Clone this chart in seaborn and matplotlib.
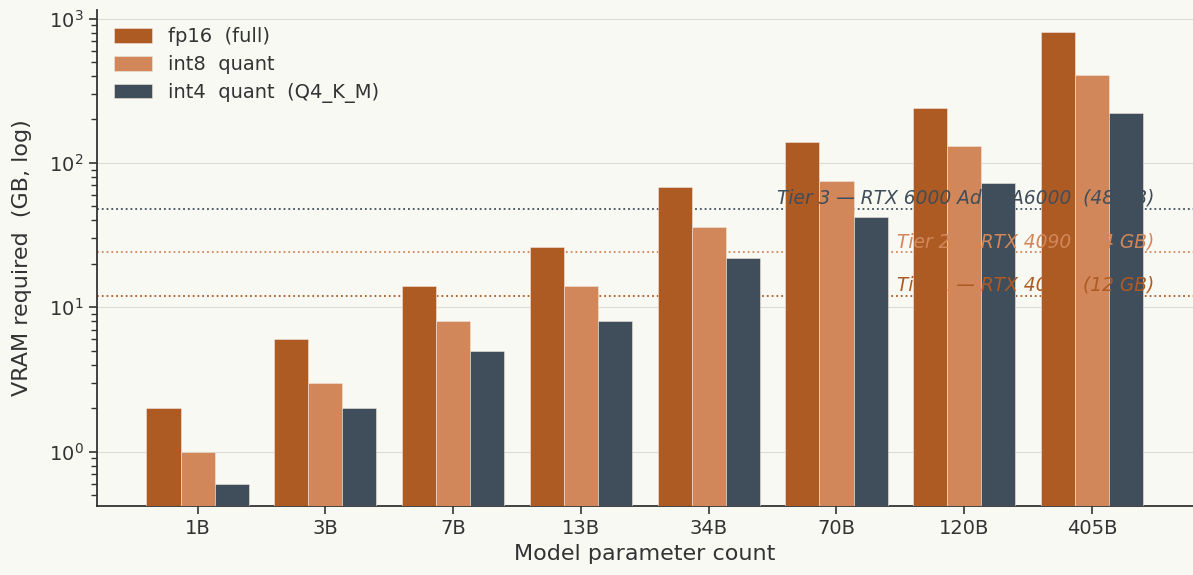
import matplotlib.pyplot as plt
import numpy as np
import pandas as pd
import seaborn as sns

# model sizes and VRAM estimates (GB)
models = ['1B', '3B', '7B', '13B', '34B', '70B', '120B', '405B']
fp16 = [2, 6, 14, 26, 68, 140, 240, 810]
int8 = [1, 3, 8, 14, 36, 75, 130, 405]
int4 = [0.6, 2, 5, 8, 22, 42, 72, 220]
series_names = ['fp16  (full)', 'int8  quant', 'int4  quant  (Q4_K_M)']
colors = ['#ae5a23', '#d1875a', '#3f4e5a']

tier_vram = [48, 24, 12]
tier_labels = ['Tier 3 — RTX 6000 Ada / A6000  (48 GB)',
               'Tier 2 — RTX 4090  (24 GB)',
               'Tier 1 — RTX 4070  (12 GB)']
tier_colors = ['#3f4e5a', '#d1875a', '#ae5a23']

bg = '#f9f9f4'
ink = '#333333'
sns.set_theme(style='white')
plt.rcParams['font.family'] = ['DejaVu Sans']

rows = []
for name, vals in zip(series_names, [fp16, int8, int4]):
    for m, v in zip(models, vals):
        rows.append({'model': m, 'series': name, 'vram': v})
df = pd.DataFrame(rows)

fig, ax = plt.subplots(figsize=(11.93, 5.75), dpi=100)
fig.patch.set_facecolor(bg)
ax.set_facecolor(bg)
ax.set_yscale('log')

# tier reference lines behind bars, labels on top
for v, lab, c in zip(tier_vram, tier_labels, tier_colors):
    ax.axhline(v, color=c, linestyle=':', linewidth=1.3, zorder=1)
    ax.text(7.49, v * 1.015, lab, color=c, fontsize=13.4, style='italic',
            ha='right', va='bottom', zorder=5)

sns.barplot(data=df, x='model', y='vram', hue='series', palette=colors,
            order=models, hue_order=series_names, width=0.8, saturation=1,
            edgecolor='#f3e6dc', linewidth=0.4, ax=ax, zorder=3)

ax.set_ylim(0.42, 1150)
ax.set_xlim(-0.79, 7.79)
ax.yaxis.grid(True, which='major', color='#dcdcd6', linewidth=0.8, zorder=0)
ax.set_axisbelow(True)
ax.tick_params(axis='both', which='major', labelsize=14, colors=ink,
               left=True, bottom=True, length=6, width=1.2)
ax.tick_params(axis='y', which='minor', left=True, length=4, width=1.0, color=ink)
for s in ['top', 'right']:
    ax.spines[s].set_visible(False)
for s in ['left', 'bottom']:
    ax.spines[s].set_color(ink)
    ax.spines[s].set_linewidth(1.3)

ax.set_xlabel('Model parameter count', fontsize=16, color=ink)
ax.set_ylabel('VRAM required  (GB, log)', fontsize=16, color=ink, labelpad=12)

leg = ax.legend(loc='upper left', frameon=False, fontsize=14,
                handlelength=1.95, handleheight=0.8, labelspacing=0.45,
                handletextpad=0.8, bbox_to_anchor=(0.0, 1.0))
for t in leg.get_texts():
    t.set_color(ink)

fig.subplots_adjust(left=0.081, right=1.0, top=0.983, bottom=0.12)
fig.savefig('out.png', dpi=100, facecolor=bg)
